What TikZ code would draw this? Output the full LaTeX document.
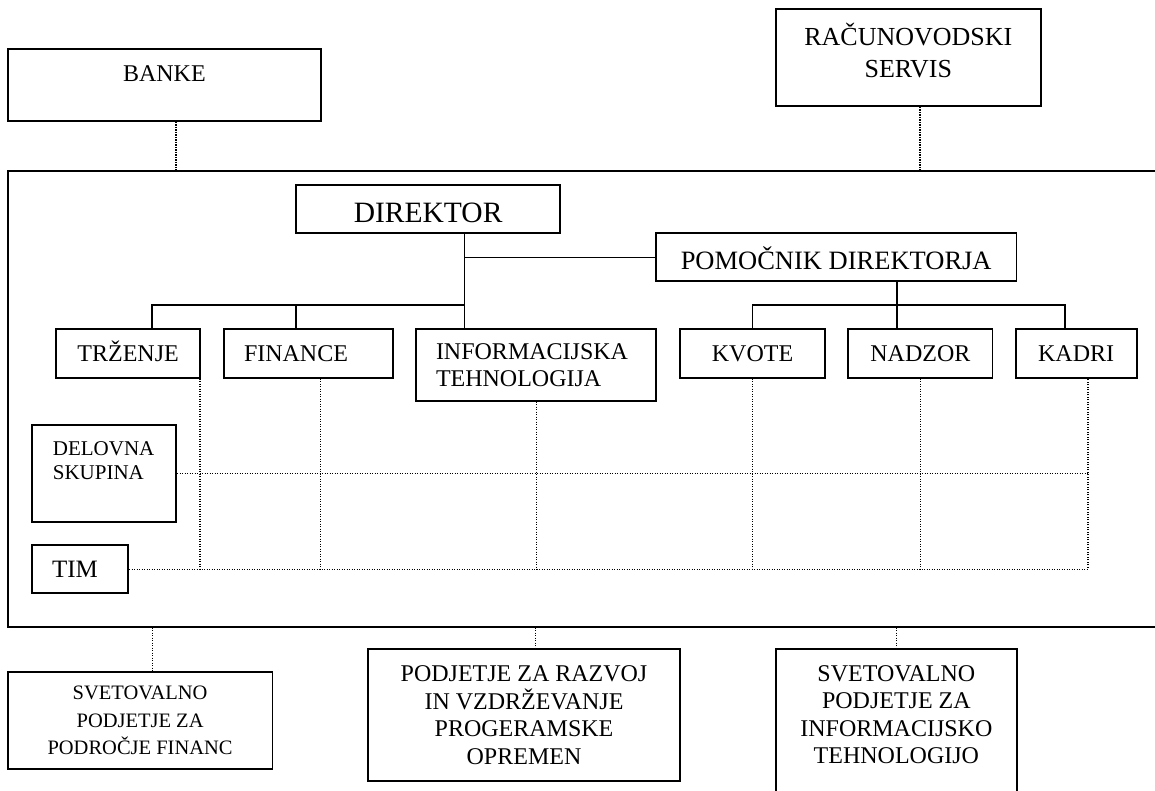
\documentclass[tikz,border=0pt]{standalone}
\usepackage{fontspec}
\setmainfont{Liberation Serif}
\newcommand{\tsz}[2]{\fontsize{#1}{#2}\selectfont}

\begin{document}
\begin{tikzpicture}[x=1pt,y=-1pt,
  unit/.style={draw, line width=1.8pt, inner sep=0pt, align=center, font=\tsz{24}{27.5}},
  rowunit/.style={unit, minimum height=48.4pt, text height=16pt, text depth=0pt},
  lefttext/.style={align=left, inner xsep=20pt, text width=#1},
  txt/.style={inner sep=0pt, align=center},
  orgline/.style={line width=1.4pt},
  dotline/.style={line width=1.3pt, dash pattern=on 1.1pt off 1.4pt}]
\useasboundingbox (0,0) rectangle (1155,790);

\node[unit, minimum width=312.7pt, minimum height=72.3pt] (banke) at (164.35,84.85) {};
\node[txt, font=\tsz{24}{27.5}] (banket) at (164.35,74) {BANKE};
\node[unit, minimum width=264.7pt, minimum height=96.7pt] (racun) at (908.35,57.65) {};
\node[txt, font=\tsz{26}{32}] (racunt) at (908.35,51) {RAČUNOVODSKI\\SERVIS};

\node[unit, line width=2pt, minimum width=1149pt, minimum height=455.7pt] (firma) at (582.5,398.85) {};

\node[unit, font=\tsz{29.5}{34}, text height=27pt, text depth=0pt, minimum width=264.3pt, minimum height=48pt] (direktor) at (428.15,209.3) {DIREKTOR};
\node[unit, font=\tsz{26.5}{31}, text height=23.5pt, text depth=0pt, minimum width=360.4pt, minimum height=48pt] (pomocnik) at (836.2,257.3) {POMOČNIK DIREKTORJA};

\node[rowunit, minimum width=143.7pt] (trzenje) at (128.15,353.5) {TRŽENJE};
\node[rowunit, lefttext=128.7pt] (finance) at (308.35,353.5) {FINANCE};
\node[unit, lefttext=200.3pt, minimum height=71.4pt] (info) at (536.15,365) {INFORMACIJSKA\\TEHNOLOGIJA};
\node[rowunit, minimum width=145pt] (kvote) at (752.5,353.5) {KVOTE};
\node[rowunit, minimum width=144.2pt] (nadzor) at (920.4,353.5) {NADZOR};
\node[rowunit, minimum width=121pt] (kadri) at (1076.1,353.5) {KADRI};

\node[unit, minimum width=144.3pt, minimum height=96.4pt] (delovna) at (104.15,473.5) {};
\node[txt, anchor=west, align=left, font=\tsz{21}{24}] (delovnat) at (52.7,461) {DELOVNA\\SKUPINA};
\node[unit, font=\tsz{25}{28}, lefttext=56.3pt, minimum height=48.3pt] (tim) at (80.15,569.15) {TIM};

\node[unit, font=\tsz{20.5}{27.5}, minimum width=264.8pt, minimum height=96.7pt] (svetfin) at (140.1,720.65) {SVETOVALNO\\PODJETJE ZA\\PODROČJE FINANC};
\node[unit, minimum width=312pt, minimum height=132pt] (podjetje) at (524,715) {PODJETJE ZA RAZVOJ\\IN VZDRŽEVANJE\\PROGERAMSKE\\OPREMEN};
\node[unit, minimum width=240.7pt, minimum height=150.7pt] (svetit) at (896.35,724.65) {};
\node[txt, font=\tsz{24}{27.5}] (svetitt) at (896.35,714.5) {SVETOVALNO\\PODJETJE ZA\\INFORMACIJSKO\\TEHNOLOGIJO};

\coordinate (dtrunk) at (464.3,305);
\coordinate (trzx) at (152,305);
\coordinate (finx) at (296,305);
\coordinate (ptrunk) at (897,305);
\coordinate (kadx) at (1065,305);
\draw[orgline] (direktor.south -| dtrunk) -- (info.north -| dtrunk);
\draw[orgline] (dtrunk |- pomocnik.west) -- (pomocnik.west);
\draw[orgline] (trzenje.north -| trzx) |- (dtrunk);
\draw[orgline] (finance.north -| finx) -- (finx);
\draw[orgline] (pomocnik.south -| ptrunk) -- (nadzor.north -| ptrunk);
\draw[orgline] (kvote.north) |- (kadx) -- (kadri.north -| kadx);

\coordinate (bankx) at (176,0);
\coordinate (racx) at (920,0);
\coordinate (trzd) at (200,0);
\coordinate (find) at (320.7,0);
\coordinate (kadd) at (1088,0);
\coordinate (sfx) at (152.3,0);
\coordinate (podx) at (535.8,0);
\draw[dotline] (banke.south -| bankx) -- (firma.north -| bankx);
\draw[dotline] (racun.south -| racx) -- (firma.north -| racx);
\draw[dotline] (trzenje.south -| trzd) -- (tim.east -| trzd);
\draw[dotline] (finance.south -| find) -- (tim.east -| find);
\foreach \n in {info,kvote,nadzor}
  \draw[dotline] (\n.south) -- (\n.south |- tim.east);
\draw[dotline] (delovna.east) -- (delovna.east -| kadd);
\draw[dotline] (tim.east) -| (kadri.south -| kadd);
\draw[dotline] (firma.south -| sfx) -- (svetfin.north -| sfx);
\draw[dotline] (firma.south -| podx) -- (podjetje.north -| podx);
\draw[dotline] (firma.south -| svetit.north) -- (svetit.north);
\end{tikzpicture}
\end{document}
